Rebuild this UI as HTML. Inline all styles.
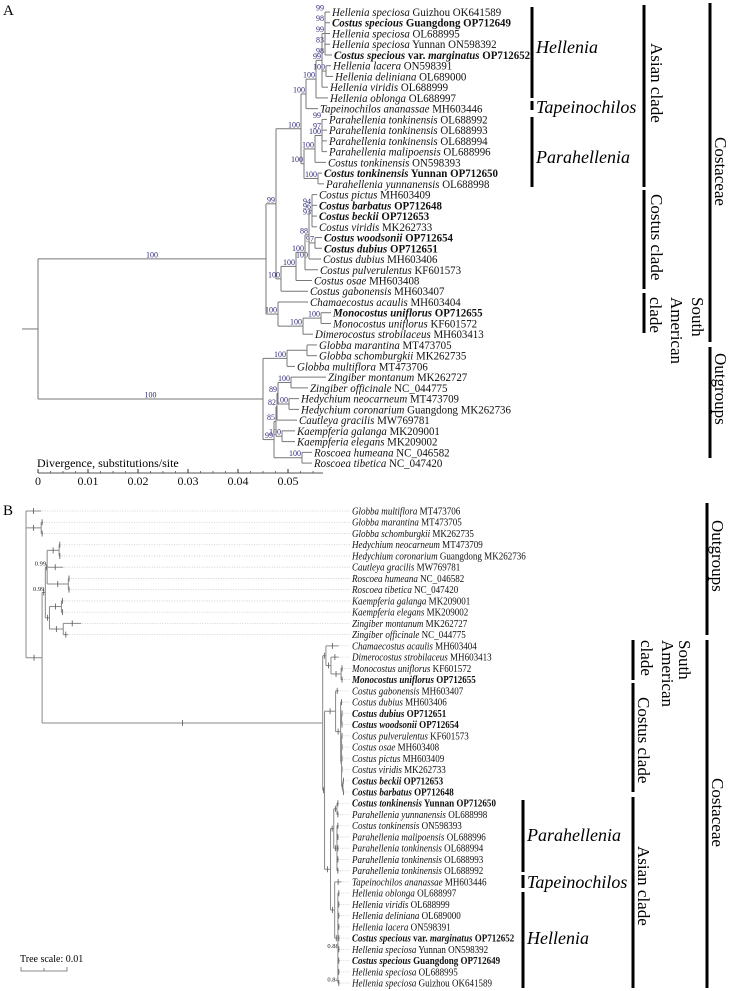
<!DOCTYPE html>
<html><head><meta charset="utf-8"><style>
html,body{margin:0;padding:0;background:#fff;}
svg{display:block;font-family:"Liberation Serif",serif;}
</style></head><body>
<svg id="fig" width="732" height="991" viewBox="0 0 732 991" xmlns="http://www.w3.org/2000/svg">
<rect x="0" y="0" width="732" height="991" fill="#fff"/>
<g id="gA"></g>
<g id="gB"></g>
</svg>
<script>
// ---------- Panel A data ----------
const taxaA = [
"*Hellenia speciosa* Guizhou OK641589","*Costus specious* Guangdong OP712649","*Hellenia speciosa* OL688995",
"*Hellenia speciosa* Yunnan ON598392","*Costus specious* var. *marginatus* OP712652","*Hellenia lacera* ON598391",
"*Hellenia deliniana* OL689000","*Hellenia viridis* OL688999","*Hellenia oblonga* OL688997",
"*Tapeinochilos ananassae* MH603446","*Parahellenia tonkinensis* OL688992","*Parahellenia tonkinensis* OL688993",
"*Parahellenia tonkinensis* OL688994","*Parahellenia malipoensis* OL688996","*Costus tonkinensis* ON598393",
"*Costus tonkinensis* Yunnan OP712650","*Parahellenia yunnanensis* OL688998","*Costus pictus* MH603409",
"*Costus barbatus* OP712648","*Costus beckii* OP712653","*Costus viridis* MK262733","*Costus woodsonii* OP712654",
"*Costus dubius* OP712651","*Costus dubius*  MH603406","*Costus pulverulentus* KF601573","*Costus osae* MH603408",
"*Costus gabonensis*  MH603407","*Chamaecostus acaulis* MH603404","*Monocostus uniflorus* OP712655",
"*Monocostus uniflorus* KF601572","*Dimerocostus strobilaceus* MH603413","*Globba marantina* MT473705",
"*Globba schomburgkii* MK262735","*Globba multiflora*  MT473706","*Zingiber montanum* MK262727",
"*Zingiber officinale* NC_044775","*Hedychium neocarneum* MT473709","*Hedychium coronarium* Guangdong MK262736",
"*Cautleya gracilis* MW769781","*Kaempferia galanga* MK209001","*Kaempferia elegans* MK209002",
"*Roscoea humeana* NC_046582","*Roscoea tibetica* NC_047420"];
const boldA = [1,4,15,18,19,21,22,28];
// branch lengths in 0.001 substitutions/site; s = bootstrap support
const treeA = {l:0,c:[
 {l:45.6,s:100,c:[
  {l:2,s:99,c:[
   {l:5,s:100,c:[
    {l:1,s:100,c:[
     {l:2,s:100,c:[
      {l:1.2,s:99,c:[
       {l:0.6,c:[{l:1,s:99},{l:1,s:98},{l:1,s:99},{l:1,s:83},{l:1.4,s:98}]},
       {l:0.8,s:100,c:[{l:1},{l:1.4}]},
       {l:1.2}]},
      {l:2.4}]},
     {l:2.4}]},
    {l:0.6,s:100,c:[
     {l:2.2,s:100,c:[
      {l:1.4,s:100,c:[{l:1,s:99},{l:1,s:97},{l:1},{l:1}]},
      {l:2.2}]},
     {l:2.8,s:100,c:[{l:0.8},{l:1.2}]}]}]},
   {l:1,s:100,c:[
    {l:3,s:100,c:[
     {l:1.8,s:100,c:[
      {l:0.8,s:88,c:[
       {l:0.6,s:96,c:[{l:1},{l:1,s:94},{l:1,s:93},{l:1}]},
       {l:1.2,s:97,c:[{l:1.4},{l:1.4}]},
       {l:2.4,s:100}]},
      {l:2.6}]},
     {l:3.2}]},
    {l:5.4}]}]},
  {l:2.4,s:100,c:[
   {l:6},
   {l:5,s:100,c:[{l:3.6,s:100,c:[{l:2},{l:2}]},{l:2}]}]}]},
 {l:45,s:100,c:[
  {l:4.8,s:100,c:[{l:4,c:[{l:2},{l:2}]},{l:1.6}]},
  {l:2.2,s:99,c:[
   {l:0.4,s:85,c:[
    {l:0.2,s:82,c:[
     {l:0.2,s:89,c:[
      {l:2.6,s:100,c:[{l:7},{l:3.4}]},
      {l:2.2,s:100,c:[{l:2},{l:2}]}]},
     {l:4}]},
    {l:1.2,s:100,c:[{l:2.6},{l:2.6}]}]},
   {l:5.6,s:100,c:[{l:2},{l:2}]}]}]}]};
const ticksA = [0,0.01,0.02,0.03,0.04,0.05];
const tickLabelsA = ["0","0.01","0.02","0.03","0.04","0.05"];

// ---------- Panel B data ----------
const taxaB = [
"*Globba multiflora* MT473706","*Globba marantina* MT473705","*Globba schomburgkii* MK262735",
"*Hedychium neocarneum* MT473709","*Hedychium coronarium* Guangdong MK262736","*Cautleya gracilis* MW769781",
"*Roscoea humeana* NC_046582","*Roscoea tibetica* NC_047420","*Kaempferia galanga* MK209001",
"*Kaempferia elegans* MK209002","*Zingiber montanum* MK262727","*Zingiber officinale* NC_044775",
"*Chamaecostus acaulis* MH603404","*Dimerocostus strobilaceus* MH603413","*Monocostus uniflorus* KF601572",
"*Monocostus uniflorus* OP712655","*Costus gabonensis* MH603407","*Costus dubius* MH603406",
"*Costus dubius* OP712651","*Costus woodsonii* OP712654","*Costus pulverulentus* KF601573","*Costus osae* MH603408",
"*Costus pictus* MH603409","*Costus viridis* MK262733","*Costus beckii* OP712653","*Costus barbatus* OP712648",
"*Costus tonkinensis* Yunnan OP712650","*Parahellenia yunnanensis* OL688998","*Costus tonkinensis*  ON598393",
"*Parahellenia malipoensis*  OL688996","*Parahellenia tonkinensis*  OL688994","*Parahellenia tonkinensis*  OL688993",
"*Parahellenia tonkinensis* OL688992","*Tapeinochilos ananassae* MH603446","*Hellenia oblonga* OL688997",
"*Hellenia viridis* OL688999","*Hellenia deliniana* OL689000","*Hellenia lacera*  ON598391",
"*Costus specious* var. *marginatus* OP712652","*Hellenia speciosa* Yunnan ON598392",
"*Costus specious* Guangdong OP712649","*Hellenia speciosa* OL688995","*Hellenia speciosa* Guizhou OK641589"];
const boldB = [15,18,19,24,25,26,38,40];
// branch lengths in 0.001 substitutions/site; s = posterior probability
const treeB = {l:0,c:[
 {l:3.3},
 {l:3.3,s:1,c:[{l:0.4},{l:0.4}]},
 {l:3.5,s:1,c:[
  {l:0.7,s:0.99,c:[
   {l:0.4,s:0.99,c:[
    {l:2.6,s:1,c:[{l:0.3},{l:0.3}]},
    {l:3.5},
    {l:4.6,s:1,c:[{l:0.3},{l:0.3}]}]},
   {l:0.9,s:1,c:[
    {l:2.6,s:1,c:[{l:0.4},{l:0.4}]},
    {l:3,s:1,c:[{l:3.9},{l:1.1}]}]}]},
  {l:61,s:1,c:[
   {l:0.7,s:1,c:[
    {l:2.8},
    {l:1.1,s:1,c:[{l:1.7},{l:2.2,s:1,c:[{l:0.4},{l:0.4}]}]}]},
   {l:0.4,s:1,c:[
    {l:2.4,s:1,c:[
     {l:0.7},
     {l:1.1,s:1,c:[
      {l:0.4},
      {l:0.2,s:1,c:[{l:0.2},{l:0.2}]},
      {l:0.2,s:1,c:[{l:0.2},{l:0.2},{l:0.2},{l:0.2},{l:0.3,s:1,c:[{l:0.2},{l:0.2}]}]}]}]},
    {l:1.3,s:1,c:[
     {l:0.7,s:1,c:[
      {l:0.7,s:1,c:[{l:0.4},{l:0.4}]},
      {l:0.7,s:1,c:[{l:0.4},{l:0.4},{l:0.4},{l:0.4},{l:0.4}]}]},
     {l:0.9,s:1,c:[
      {l:1.5},
      {l:0.7,s:1,c:[{l:0.4},{l:0.4},{l:0.4},{l:0.4},{l:0.4},{l:0.4,s:0.88},{l:0.4},{l:0.4},{l:0.4,s:0.84}]}]}]}]}]}]}]};

// ---------- helpers ----------
const NS = "http://www.w3.org/2000/svg";
function mk(parent, tag, attrs){
  const e = document.createElementNS(NS, tag);
  for (const k in attrs) e.setAttribute(k, attrs[k]);
  parent.appendChild(e); return e;
}
function layout(node, px, xScale, st){
  node.px = px; node.x = px + node.l * xScale;
  if (!node.c){ node.y = st.y0 + st.i * st.dy; node.idx = st.i; st.i++; st.tips.push(node); }
  else { node.c.forEach(ch => layout(ch, node.x, xScale, st));
         node.y = (node.c[0].y + node.c[node.c.length-1].y) / 2; }
  st.all.push(node);
}
function richText(parent, x, y, str, size, bold, name, sx){
  const t = mk(parent, "text", {x:x, y:y, "font-size":size, "font-weight":bold?"bold":"normal", fill:"#111",
    transform:"matrix("+sx+",0,0,1,"+(x*(1-sx))+",0)"});
  
  
  str.split("*").forEach((p,i)=>{ if(!p) return;
    const s = mk(t, "tspan", {}); if (i%2===1) s.setAttribute("font-style","italic");
    s.setAttribute("xml:space","preserve"); s.textContent = p; });
  return t;
}
function bar(g, x, y1, y2, name){
  const r = mk(g, "rect", {x:x-1.5, y:y1, width:3, height:y2-y1, fill:"#000"});
  
  
}
function label(g, x, y, txt, size, italic, name, rot){
  const t = mk(g, "text", {x:x, y:y, "font-size":size, fill:"#000"});
  if (italic) t.setAttribute("font-style","italic");
  if (rot) t.setAttribute("transform", "rotate(90 "+x+" "+y+")");
  t.textContent = txt;
  
  
}

// ---------- draw panel A ----------
(function(){
  const g = document.getElementById("gA");
  const x0 = 38, scale = 5; // px per 0.001
  const st = {y0:12, dy:10.74, i:0, tips:[], all:[]};
  layout(treeA, x0, scale, st);
  label(g, 3, 15, "A", 15, false, "panel-a-letter");
  const stub = mk(g,"line",{x1:22,y1:treeA.y,x2:x0,y2:treeA.y,stroke:"#777","stroke-width":1});
  
  
  st.all.forEach(n=>{
    if (n.l>0){
      const h = mk(g,"line",{x1:n.px,y1:n.y,x2:n.x,y2:n.y,stroke:"#777","stroke-width":1});
      
      
    }
    if (n.c){
      const v = mk(g,"line",{x1:n.x,y1:n.c[0].y,x2:n.x,y2:n.c[n.c.length-1].y,stroke:"#777","stroke-width":1});
      
      
    }
    if (n.s!==undefined){
      const long = (n.x-n.px) > 40;
      const t = mk(g,"text",{x: long ? (n.px+n.x)/2 : n.px+ (n.c?(n.x-n.px):0) - 1, y:n.y-1.5,
        "font-size":8,fill:"#2d2a7a","text-anchor": long?"middle":"end"});
      t.textContent = n.s;
      
      
    }
  });
  st.tips.forEach(n=>{
    richText(g, n.x+2, n.y+4, taxaA[n.idx], 11.6, boldA.includes(n.idx), "taxon-label", 0.94);
  });
  const ay = 473;
  label(g, 37, 467, "Divergence, substitutions/site", 12, false, "x-axis-title");
  const ax = mk(g,"line",{x1:x0,y1:ay,x2:323,y2:ay,stroke:"#555","stroke-width":1});
  
  
  for (let v=0; v<=0.057; v+=0.0025){
    const xx = x0 + v*1000*scale;
    const tk = mk(g,"line",{x1:xx,y1:ay-2,x2:xx,y2:ay,stroke:"#555","stroke-width":0.8});
    
    
  }
  ticksA.forEach((v,i)=>{
    const xx = x0 + v*1000*scale;
    const tk = mk(g,"line",{x1:xx,y1:ay-4,x2:xx,y2:ay,stroke:"#333","stroke-width":1});
    
    
    const t = mk(g,"text",{x:xx,y:ay+12,"font-size":12,"text-anchor":"middle",fill:"#111"});
    t.textContent = tickLabelsA[i];
    
    
  });
  bar(g,532,7,98,"hellenia-bar"); bar(g,532,101,110,"tapeinochilos-bar"); bar(g,532,117,187,"parahellenia-bar");
  label(g,536,53,"Hellenia",18,true,"hellenia-label");
  label(g,536,113,"Tapeinochilos",18,true,"tapeinochilos-label");
  label(g,536,163,"Parahellenia",18,true,"parahellenia-label");
  bar(g,644,5,187,"asian-clade-bar"); bar(g,644,190,289,"costus-clade-bar"); bar(g,644,293,333,"south-american-clade-bar");
  label(g,651,43,"Asian clade",17,false,"asian-clade-label",true);
  label(g,651,194,"Costus clade",17,false,"costus-clade-label",true);
  label(g,692,297,"South",17,false,"south-american-label-1",true);
  label(g,671,297,"American",17,false,"south-american-label-2",true);
  label(g,650,297,"clade",17,false,"south-american-label-3",true);
  bar(g,710,3,342,"costaceae-bar"); bar(g,710,347,458,"outgroups-bar");
  label(g,715,137,"Costaceae",17,false,"costaceae-label",true);
  label(g,715,353,"Outgroups",17,false,"outgroups-label",true);
})();

// ---------- draw panel B ----------
(function(){
  const g = document.getElementById("gB");
  const x0 = 26, scale = 4.6;
  const st = {y0:511, dy:11.24, i:0, tips:[], all:[]};
  layout(treeB, x0, scale, st);
  label(g, 3, 515, "B", 15, false, "panel-b-letter");
  st.tips.forEach(n=>{
    const d = mk(g,"line",{x1:n.x+1,y1:n.y,x2:350,y2:n.y,stroke:"#c8c8c8","stroke-width":0.8,"stroke-dasharray":"1,1.5"});
    
    
  });
  st.all.forEach(n=>{
    if (n.l>0){
      const h = mk(g,"line",{x1:n.px,y1:n.y,x2:n.x,y2:n.y,stroke:"#888","stroke-width":1});
      
      
      const mx = (n.px+n.x)/2;
      const tk = mk(g,"line",{x1:mx,y1:n.y-3,x2:mx,y2:n.y+3,stroke:"#555","stroke-width":0.8});
      
      
    }
    if (n.c){
      const v = mk(g,"line",{x1:n.x,y1:n.c[0].y,x2:n.x,y2:n.c[n.c.length-1].y,stroke:"#888","stroke-width":1});
      
      
    }
    if (n.s!==undefined && n.s<1){
      const t = mk(g,"text",{x:n.x-1,y:n.y-1.5,"font-size":6.5,fill:"#222","text-anchor":"end"});
      t.textContent = n.s;
      
      
    }
  });
  st.tips.forEach(n=>{
    richText(g, 352, n.y+3.5, taxaB[n.idx], 10.5, boldB.includes(n.idx), "taxon-label", 0.86);
  });
  label(g, 20, 962, "Tree scale: 0.01", 10, false, "tree-scale-label");
  const sb = mk(g,"path",{d:"M21 967 V971 H67 V967 M44 971 V968",fill:"none",stroke:"#666","stroke-width":0.8});
  
  
  bar(g,707,503,635,"outgroups-bar");
  label(g,712,520,"Outgroups",17,false,"outgroups-label",true);
  bar(g,633,640,680,"south-american-clade-bar");
  label(g,679,640,"South",17,false,"south-american-label-1",true);
  label(g,662,640,"American",17,false,"south-american-label-2",true);
  label(g,641,640,"clade",17,false,"south-american-label-3",true);
  bar(g,633,683,792,"costus-clade-bar");
  label(g,638,697,"Costus clade",17,false,"costus-clade-label",true);
  bar(g,633,797,988,"asian-clade-bar");
  label(g,638,846,"Asian clade",17,false,"asian-clade-label",true);
  bar(g,707,640,988,"costaceae-bar");
  label(g,712,778,"Costaceae",17,false,"costaceae-label",true);
  bar(g,523,800,872,"parahellenia-bar"); bar(g,523,875,888,"tapeinochilos-bar"); bar(g,523,892,988,"hellenia-bar");
  label(g,527,841,"Parahellenia",18,true,"parahellenia-label");
  label(g,527,888,"Tapeinochilos",18,true,"tapeinochilos-label");
  label(g,527,944,"Hellenia",18,true,"hellenia-label");
})();
</script>
</body></html>
